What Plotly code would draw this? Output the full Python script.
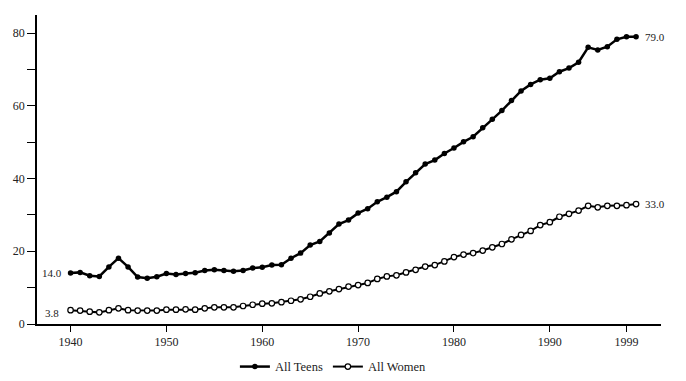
import plotly.graph_objects as go

years = list(range(1940, 2000))

teens = [14.0, 14.2, 13.3, 13.1, 15.7, 18.1, 15.7, 12.9, 12.6, 13.0,
         13.9, 13.6, 13.9, 14.1, 14.7, 14.9, 14.7, 14.5, 14.7, 15.4,
         15.6, 16.2, 16.3, 18.1, 19.5, 21.7, 22.7, 25.0, 27.5, 28.6,
         30.5, 31.7, 33.6, 34.9, 36.4, 39.1, 41.6, 44.0, 45.1, 46.9,
         48.4, 50.1, 51.5, 54.0, 56.3, 58.7, 61.5, 64.1, 65.9, 67.2,
         67.6, 69.4, 70.4, 72.0, 76.1, 75.4, 76.3, 78.3, 79.0, 79.0]

women = [3.8, 3.7, 3.4, 3.2, 3.8, 4.3, 3.8, 3.7, 3.7, 3.7,
         3.95, 3.95, 4.05, 3.95, 4.3, 4.6, 4.6, 4.6, 4.95, 5.3,
         5.6, 5.7, 6.0, 6.4, 6.8, 7.5, 8.4, 9.0, 9.6, 10.3,
         10.7, 11.3, 12.4, 13.1, 13.4, 14.2, 14.9, 15.8, 16.2, 17.2,
         18.4, 19.1, 19.5, 20.2, 21.1, 22.0, 23.3, 24.5, 25.6, 27.2,
         28.0, 29.5, 30.3, 31.2, 32.5, 32.1, 32.5, 32.5, 32.7, 33.0]

x_tick_vals = [1940, 1950, 1960, 1970, 1980, 1990, 1998]
x_tick_text = ["1940", "1950", "1960", "1970", "1980", "1990", "1999"]
y_tick_vals = [0, 10, 20, 30, 40, 50, 60, 70, 80]
y_tick_text = ["0", "", "20", "", "40", "", "60", "", "80"]

FONT = "Liberation Serif"

fig = go.Figure()
fig.add_trace(go.Scatter(
    x=years, y=teens, name="All Teens", mode="lines+markers",
    line=dict(color="black", width=2.5),
    marker=dict(symbol="circle", size=5.5, color="black"),
))
fig.add_trace(go.Scatter(
    x=years, y=women, name="All Women", mode="lines+markers",
    line=dict(color="black", width=2),
    marker=dict(symbol="circle", size=5.5, color="white",
                line=dict(color="black", width=1.2)),
))

ann_font = dict(family=FONT, size=11, color="#222")
fig.add_annotation(x=years[0], y=teens[0], text=f"{teens[0]:.1f}", showarrow=False,
                   xanchor="right", xshift=-7, font=ann_font)
fig.add_annotation(x=years[0], y=women[0], text=f"{women[0]:.1f}", showarrow=False,
                   xanchor="right", xshift=-10, yshift=-3, font=ann_font)
fig.add_annotation(x=years[-1], y=teens[-1], text=f"{teens[-1]:.1f}", showarrow=False,
                   xanchor="left", xshift=7, font=ann_font)
fig.add_annotation(x=years[-1], y=women[-1], text=f"{women[-1]:.1f}", showarrow=False,
                   xanchor="left", xshift=7, font=ann_font)

fig.update_layout(
    width=678, height=373,
    margin=dict(l=29, r=25, t=7, b=57, autoexpand=False),
    paper_bgcolor="white", plot_bgcolor="white",
    font=dict(family=FONT, size=12, color="#222"),
    showlegend=True,
    legend=dict(orientation="h", x=0.475, xanchor="center", y=-0.139, yanchor="middle",
                font=dict(family=FONT, size=12.5, color="#222"),
                bgcolor="rgba(0,0,0,0)"),
    xaxis=dict(range=[1936.5, 2001.6], showgrid=False, zeroline=False, automargin=False,
               showline=True, linecolor="black", linewidth=1.5,
               ticks="outside", ticklen=6, tickwidth=1.2, tickcolor="black",
               tickvals=x_tick_vals, ticktext=x_tick_text,
               tickfont=dict(family=FONT, size=12, color="#222")),
    yaxis=dict(range=[0, 85], showgrid=False, zeroline=False, automargin=False,
               showline=True, linecolor="black", linewidth=1.5,
               ticks="outside", ticklen=8, tickwidth=1.2, tickcolor="black",
               tickvals=y_tick_vals, ticktext=y_tick_text,
               tickfont=dict(family=FONT, size=12, color="#222")),
)

fig.write_html("out.html")
